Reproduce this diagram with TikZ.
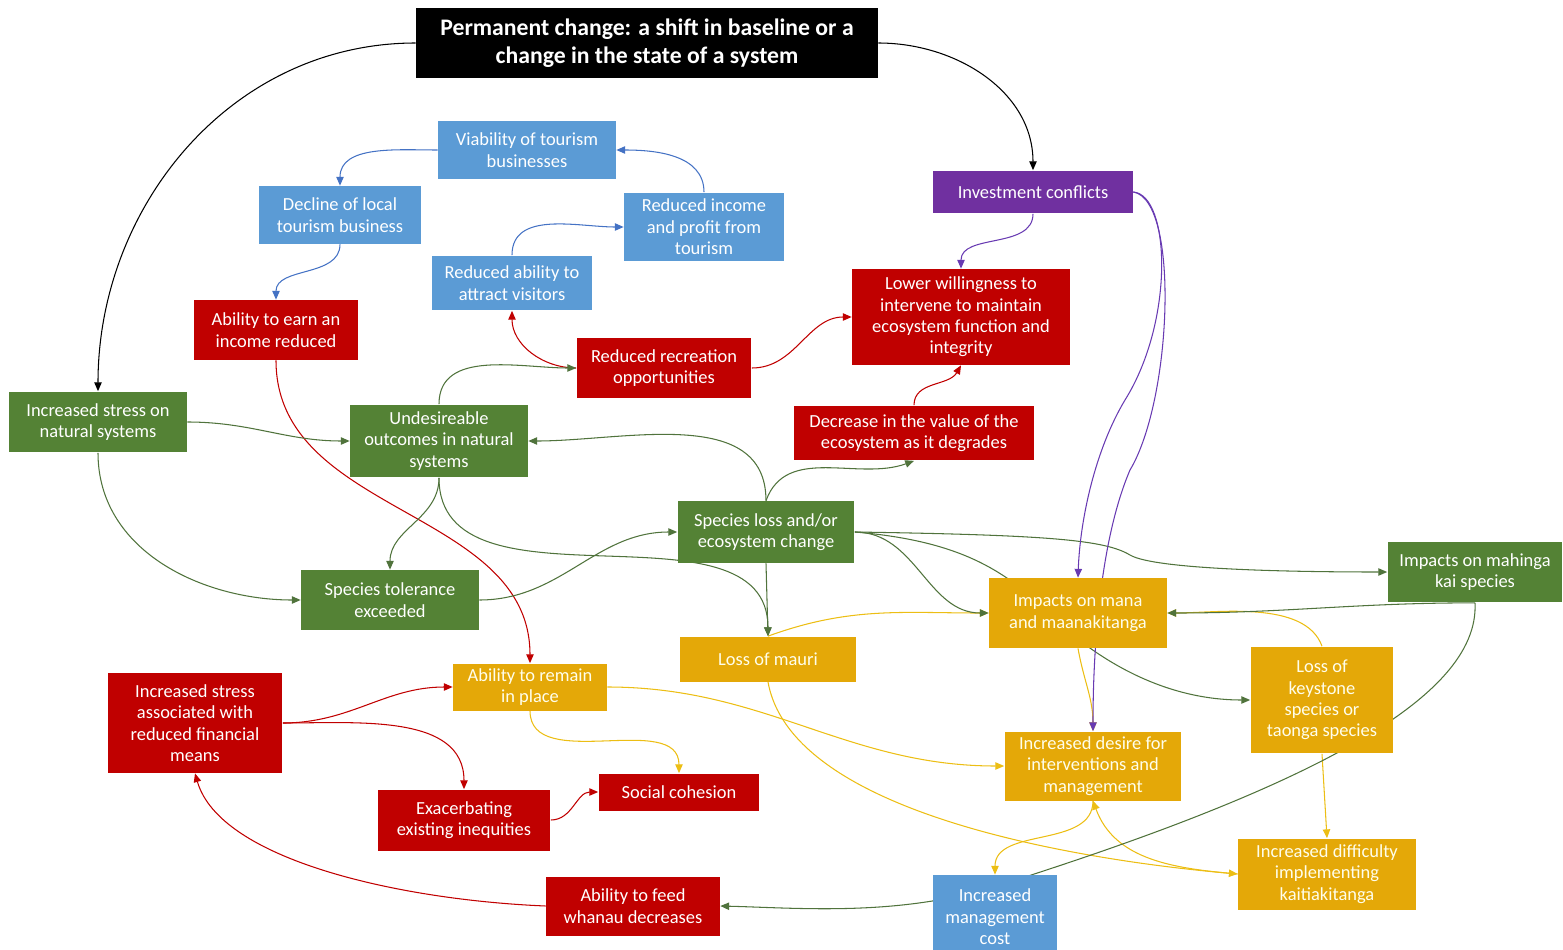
\documentclass[tikz,border=0pt]{standalone}
\usepackage{fontspec}
\setmainfont{Carlito}
\usetikzlibrary{arrows.meta, backgrounds}
\definecolor{boxblue}{RGB}{91,155,213}
\definecolor{boxred}{RGB}{192,0,0}
\definecolor{boxgreen}{RGB}{84,130,53}
\definecolor{boxamber}{RGB}{228,168,8}
\definecolor{boxpurple}{RGB}{112,48,160}
\definecolor{lineblue}{RGB}{68,114,196}
\definecolor{linered}{RGB}{192,0,0}
\definecolor{linegreen}{RGB}{80,115,60}
\definecolor{lineyellow}{RGB}{236,190,20}
\definecolor{linepurple}{RGB}{104,58,178}
\tikzset{box/.style={rectangle, text=white, align=center, inner sep=2pt,
    font=\fontsize{10.5}{12.2}\selectfont},
  titlebox/.style={box, fill=black, font=\fontsize{13.5}{16}\selectfont\bfseries},
  bluebox/.style={box, fill=boxblue},
  redbox/.style={box, fill=boxred},
  greenbox/.style={box, fill=boxgreen},
  amberbox/.style={box, fill=boxamber, text=white!92!yellow},
  purplebox/.style={box, fill=boxpurple},
  link/.style={draw, line width=0.6pt, ->},
  bluelink/.style={link, lineblue},
  redlink/.style={link, linered},
  greenlink/.style={link, linegreen},
  yellowlink/.style={link, lineyellow},
  purplelink/.style={link, linepurple}}

\begin{document}
\begin{tikzpicture}[x=0.02cm, y=0.02cm, >={Triangle[length=5pt,width=4.2pt]}]
  \useasboundingbox (0,0) rectangle (1563,-950);

  % Nodes
  \node[titlebox, minimum width=9.24cm, minimum height=1.42cm] (perm) at (647,-43)
    {Permanent change: a shift in baseline or a\\change in the state of a system};

  \node[bluebox, minimum width=3.56cm, minimum height=1.18cm] (tour) at (527,-150)
    {Viability of tourism\\businesses};
  \node[bluebox, minimum width=3.24cm, minimum height=1.16cm] (decl) at (340,-215)
    {Decline of local\\tourism business};
  \node[bluebox, minimum width=3.20cm, minimum height=1.38cm] (income) at (704,-227)
    {Reduced income\\and profit from\\tourism};
  \node[bluebox, minimum width=3.22cm, minimum height=1.10cm] (attract) at (512,-283)
    {Reduced ability to\\attract visitors};
  \node[purplebox, minimum width=4.00cm, minimum height=0.86cm] (invest) at (1033,-192)
    {Investment conflicts};

  \node[redbox, minimum width=3.28cm, minimum height=1.20cm] (earn) at (276,-330)
    {Ability to earn an\\income reduced};
  \node[redbox, minimum width=4.36cm, minimum height=1.92cm] (lower) at (961,-317)
    {Lower willingness to\\intervene to maintain\\ecosystem function and\\integrity};
  \node[redbox, minimum width=3.50cm, minimum height=1.20cm] (recr) at (664,-368)
    {Reduced recreation\\opportunities};
  \node[redbox, minimum width=4.82cm, minimum height=1.10cm] (decr) at (914,-433)
    {Decrease in the value of the\\ecosystem as it degrades};

  \node[greenbox, minimum width=3.56cm, minimum height=1.22cm] (stressnat) at (98,-422)
    {Increased stress on\\natural systems};
  \node[greenbox, minimum width=3.56cm, minimum height=1.46cm] (undes) at (439,-441)
    {Undesireable\\outcomes in natural\\systems};
  \node[greenbox, minimum width=3.54cm, minimum height=1.24cm] (sploss) at (766,-532)
    {Species loss and/or\\ecosystem change};
  \node[greenbox, minimum width=3.56cm, minimum height=1.20cm] (toler) at (390,-600)
    {Species tolerance\\exceeded};
  \node[greenbox, minimum width=3.50cm, minimum height=1.22cm] (mahinga) at (1475,-572)
    {Impacts on mahinga\\kai species};

  \node[amberbox, minimum width=3.56cm, minimum height=1.40cm] (mana) at (1078,-613)
    {Impacts on mana\\and maanakitanga};
  \node[amberbox, minimum width=3.52cm, minimum height=0.90cm] (mauri) at (768,-659)
    {Loss of mauri};
  \node[amberbox, minimum width=3.08cm, minimum height=0.94cm] (remain) at (530,-687)
    {Ability to remain\\in place};
  \node[amberbox, minimum width=2.86cm, minimum height=2.14cm] (keystone) at (1322,-700)
    {Loss of\\keystone\\species or\\taonga species};
  \node[amberbox, minimum width=3.54cm, minimum height=1.38cm] (desire) at (1093,-766)
    {Increased desire for\\interventions and\\management};
  \node[amberbox, minimum width=3.56cm, minimum height=1.42cm] (difficulty) at (1327,-874)
    {Increased difficulty\\implementing\\kaitiakitanga};

  \node[redbox, minimum width=3.50cm, minimum height=2.00cm] (stressfin) at (195,-723)
    {Increased stress\\associated with\\reduced financial\\means};
  \node[redbox, minimum width=3.22cm, minimum height=0.74cm] (social) at (679,-792)
    {Social cohesion};
  \node[redbox, minimum width=3.46cm, minimum height=1.22cm] (exac) at (464,-820)
    {Exacerbating\\existing inequities};
  \node[redbox, minimum width=3.48cm, minimum height=1.18cm] (feed) at (633,-906)
    {Ability to feed\\whanau decreases};
  \node[bluebox, minimum width=2.50cm, minimum height=1.68cm] (mgmt) at (995,-917)
    {Increased\\management\\cost};

  % Links, kept behind the boxes
  \begin{scope}[on background layer]
    % tourism
    \draw[bluelink] (tour.west) to[out=180,in=90] (decl.north);
    \draw[bluelink] (income.north) to[out=90,in=0] (tour.east);
    \draw[bluelink] (attract.north) to[out=90,in=180] (income.west);
    \draw[bluelink] (decl.south) to[out=-90,in=90] (earn.north);

    % social and economic
    \draw[redlink] (recr.west) to[out=180,in=-90] (attract.south);
    \draw[redlink] (recr.east) to[out=0,in=180] (lower.west);
    \draw[redlink] (decr.north) to[out=90,in=-120] (lower.south);
    \draw[redlink] (earn.south) to[out=-90,in=90] (remain.north);
    \draw[redlink] (stressfin.east) to[out=0,in=180] (remain.west);
    \draw[redlink] (stressfin.east) to[out=0,in=90] (exac.north);
    \draw[redlink] (exac.east) to[out=0,in=180] (social.west);
    \draw[redlink] (feed.west) .. controls (400,-900) and (220,-860) .. (stressfin.south);

    % cultural
    \draw[yellowlink] (mauri.north) to[out=20,in=180] (mana.west);
    \draw[yellowlink] (keystone.north) to[out=110,in=0,looseness=0.8] (mana.east);
    \draw[yellowlink] (mana.south) to[out=-80,in=90] (desire.north);
    \draw[yellowlink] (keystone.south) -- (difficulty.north);
    \draw[yellowlink] (remain.east) to[out=0,in=180] (desire.west);
    \draw[yellowlink] (remain.south) to[out=-90,in=90] (social.north);
    \draw[yellowlink] (mauri.south) to[out=-80,in=175,looseness=0.7] (difficulty.west);
    \draw[yellowlink] (desire.south) to[out=-90,in=90] (mgmt.north);
    \draw[yellowlink] (difficulty.west) to[out=175,in=-70] (desire.south);

    % natural systems
    \draw[greenlink] (stressnat.east) to[out=0,in=180] (undes.west);
    \draw[greenlink] (stressnat.south) to[out=-90,in=180] (toler.west);
    \draw[greenlink] (undes.north) to[out=90,in=180] (recr.west);
    \draw[greenlink] (undes.south) to[out=-90,in=90] (toler.north);
    \draw[greenlink] (undes.south) to[out=-90,in=90] (mauri.north);
    \draw[greenlink] (sploss.north) to[out=90,in=0] (undes.east);
    \draw[greenlink] (sploss.north) to[out=70,in=200] (decr.south);
    \draw[greenlink] (toler.east) to[out=0,in=180] (sploss.west);
    \draw[greenlink] (sploss.south) -- (mauri.north);
    \draw[greenlink] (sploss.east) to[out=0,in=180] (mana.west);
    \draw[greenlink] (sploss.east) .. controls (1050,-535) and (1105,-540) .. (1130,-555)
      .. controls (1155,-570) and (1300,-572) .. (mahinga.west);
    \draw[greenlink] (sploss.east) .. controls (950,-540) and (1000,-565) .. (1045,-610)
      .. controls (1080,-645) and (1150,-700) .. (keystone.west);
    \draw[greenlink] (mahinga.south) to[out=180,in=0] (mana.east);
    \draw[greenlink] (mahinga.south) .. controls (1480,-700) and (1300,-790) .. (1000,-885)
      .. controls (900,-917) and (800,-908) .. (feed.east);

    % investment
    \draw[purplelink] (invest.south) to[out=-90,in=90] (lower.north);
    \draw[purplelink] (invest.east) .. controls (1170,-195) and (1175,-320) .. (1125,-400)
      .. controls (1095,-450) and (1080,-520) .. (mana.north);
    \draw[purplelink] (invest.east) .. controls (1180,-200) and (1172,-400) .. (1130,-470)
      .. controls (1100,-540) and (1093,-650) .. (desire.north);

    % permanent change
    \draw[link] (perm.west) to[out=180,in=90] (stressnat.north);
    \draw[link] (perm.east) to[out=0,in=90] (invest.north);
  \end{scope}
\end{tikzpicture}
\end{document}
